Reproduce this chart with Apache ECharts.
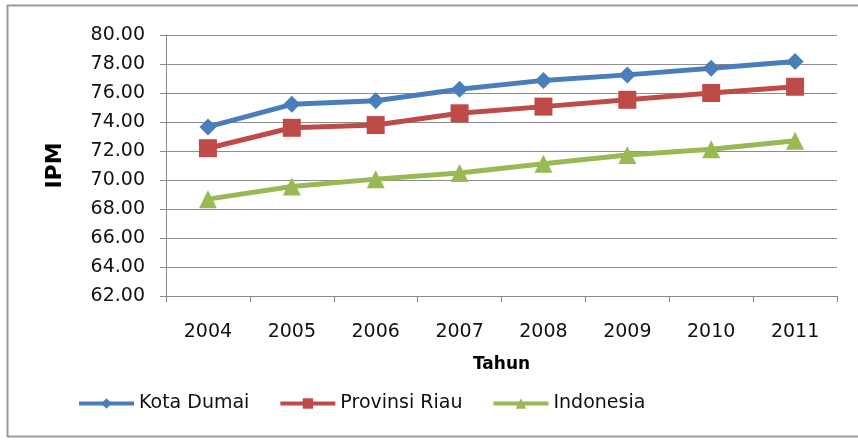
<!DOCTYPE html>
<html><head><meta charset="utf-8">
<script src="https://cdn.jsdelivr.net/npm/echarts@6/dist/echarts.min.js"></script>
<style>html,body{margin:0;padding:0;background:#fff}#c{width:858px;height:441px}</style>
</head><body><div id="c"></div>
<script>
const years = ['2004','2005','2006','2007','2008','2009','2010','2011'];
const kotaDumai = [73.66, 75.22, 75.47, 76.26, 76.87, 77.25, 77.71, 78.17];
const provinsiRiau = [72.19, 73.60, 73.79, 74.60, 75.06, 75.53, 76.00, 76.43];
const indonesia = [68.68, 69.55, 70.06, 70.48, 71.12, 71.73, 72.12, 72.70];
const yTicks = {min: 62, max: 80, interval: 2};

const FONT = '"DejaVu Sans", sans-serif';
const chart = echarts.init(document.getElementById('c'));
function mk(name, data, color, symbol, size){
  return {name, type:'line', data, symbol, symbolSize:size, showSymbol:true,
    lineStyle:{color, width:5}, itemStyle:{color}, color, animation:false};
}
chart.setOption({
  animation:false,
  graphic:[{type:'rect', shape:{x:7.5,y:5.5,width:900,height:431}, style:{fill:'none', stroke:'#9a9a9a', lineWidth:2}, silent:true}],
  grid:{left:166, right:21, top:35, bottom:145, containLabel:false},
  xAxis:{type:'category', data:years, boundaryGap:true,
    name:'Tahun', nameLocation:'middle', nameGap:60,
    nameTextStyle:{fontFamily:FONT, fontSize:17, fontWeight:'bold', color:'#000'},
    axisLine:{lineStyle:{color:'#888', width:1}},
    axisTick:{show:true, length:6, alignWithLabel:false, lineStyle:{color:'#888'}},
    axisLabel:{fontFamily:FONT, fontSize:19, color:'#111', margin:27}},
  yAxis:{type:'value', min:yTicks.min, max:yTicks.max, interval:yTicks.interval,
    name:'IPM', nameLocation:'middle', nameGap:100, nameRotate:90,
    nameTextStyle:{fontFamily:FONT, fontSize:22, fontWeight:'bold', color:'#000'},
    axisLine:{show:true, lineStyle:{color:'#888'}},
    axisTick:{show:true, length:6, lineStyle:{color:'#888'}},
    splitLine:{lineStyle:{color:'#8c8c8c', width:1}},
    axisLabel:{fontFamily:FONT, fontSize:19, color:'#111', margin:21, formatter:v=>v.toFixed(2)}},
  legend:{left:72, top:389, itemWidth:55, itemHeight:13, itemGap:29,
    lineStyle:{width:4},
    textStyle:{fontFamily:FONT, fontSize:19, color:'#111'},
    data:['Kota Dumai','Provinsi Riau','Indonesia']},
  series:[
    mk('Kota Dumai', kotaDumai, '#4a7ebb', 'diamond', 17),
    mk('Provinsi Riau', provinsiRiau, '#be4b48', 'rect', 18),
    mk('Indonesia', indonesia, '#98b954', 'triangle', 18)
  ]
});
</script></body></html>
